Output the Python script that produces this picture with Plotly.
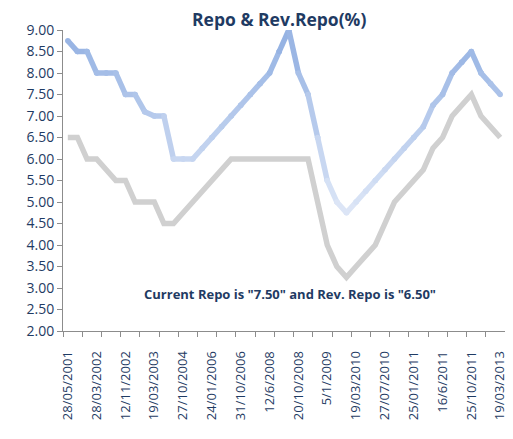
import plotly.graph_objects as go

# ---- data ----
repo = [8.75, 8.5, 8.5, 8.0, 8.0, 8.0, 7.5, 7.5, 7.1, 7.0, 7.0, 6.0, 6.0, 6.0,
        6.25, 6.5, 6.75, 7.0, 7.25, 7.5, 7.75, 8.0, 8.5, 9.0, 8.0, 7.5, 6.5,
        5.5, 5.0, 4.75, 5.0, 5.25, 5.5, 5.75, 6.0, 6.25, 6.5, 6.75, 7.25, 7.5,
        8.0, 8.25, 8.5, 8.0, 7.75, 7.5]
rev_repo = [6.5, 6.5, 6.0, 6.0, 5.75, 5.5, 5.5, 5.0, 5.0, 5.0, 4.5, 4.5, 4.75,
            5.0, 5.25, 5.5, 5.75, 6.0, 6.0, 6.0, 6.0, 6.0, 6.0, 6.0, 6.0, 6.0,
            5.0, 4.0, 3.5, 3.25, 3.5, 3.75, 4.0, 4.5, 5.0, 5.25, 5.5, 5.75,
            6.25, 6.5, 7.0, 7.25, 7.5, 7.0, 6.75, 6.5]
tick_labels = ["28/05/2001", "28/03/2002", "12/11/2002", "19/03/2003",
               "27/10/2004", "24/01/2006", "31/10/2006", "12/6/2008",
               "20/10/2008", "5/1/2009", "19/03/2010", "27/07/2010",
               "25/01/2011", "16/6/2011", "25/10/2011", "19/03/2013"]
label_step = 3
title_text = "Repo &amp; Rev.Repo(%)"
note_text = 'Current Repo is "7.50" and Rev. Repo is "6.50"'

idx = list(range(len(repo)))
navy = "#1f3b63"
axis_col = "#8c8c8c"

top_rgb = (146, 176, 226)
bot_rgb = (222, 231, 247)


def grad(v):
    t = (9.0 - v) / (9.0 - 4.75)
    t = max(0.0, min(1.0, t))
    c = [round(a + (b - a) * t) for a, b in zip(top_rgb, bot_rgb)]
    return "rgb(%d,%d,%d)" % tuple(c)


fig = go.Figure()

fig.add_trace(go.Scatter(x=idx, y=rev_repo, mode="lines",
                         line=dict(color="#d0d0d0", width=5.5),
                         showlegend=False, hoverinfo="skip"))

for i in range(len(repo) - 1):
    c = grad((repo[i] + repo[i + 1]) / 2)
    fig.add_trace(go.Scatter(x=idx[i:i + 2], y=repo[i:i + 2], mode="lines+markers",
                             line=dict(color=c, width=5.5),
                             marker=dict(color=c, size=5.5, line=dict(width=0)),
                             showlegend=False, hoverinfo="skip"))

# page body has an 8px margin, so the figure is 8px smaller and margins shifted
fig.update_layout(
    width=505, height=431,
    margin=dict(l=55, r=5, t=22, b=108),
    paper_bgcolor="white", plot_bgcolor="white",
    title=dict(text="<b>" + title_text + "</b>", x=0.537, xanchor="center",
               y=0.973, yanchor="middle",
               font=dict(family="Open Sans", size=17.5, color=navy)),
    xaxis=dict(range=[-0.5, len(repo) - 0.5],
               tickmode="array",
               tickvals=idx[::label_step],
               ticktext=tick_labels,
               tickangle=-90, ticks="",
               ticklabelstandoff=14,
               showgrid=False, zeroline=False,
               showline=True, linecolor=axis_col, linewidth=1,
               tickfont=dict(family="Open Sans", size=13, color=navy),
               minor=dict(tickmode="linear", tick0=-0.5, dtick=2,
                          ticks="outside", ticklen=5, tickcolor=axis_col,
                          showgrid=False)),
    yaxis=dict(range=[2, 9], dtick=0.5, tick0=2, tickformat=".2f",
               ticks="outside", ticklen=5, tickcolor=axis_col,
               showgrid=False, zeroline=False,
               showline=True, linecolor=axis_col, linewidth=1,
               tickfont=dict(family="Open Sans", size=14, color=navy)),
)

fig.add_annotation(text="<b>" + note_text + "</b>", xref="paper", yref="y",
                   x=0.513, y=2.86, showarrow=False, xanchor="center",
                   font=dict(family="Open Sans", size=13, color=navy))

fig.write_html("out.html")
